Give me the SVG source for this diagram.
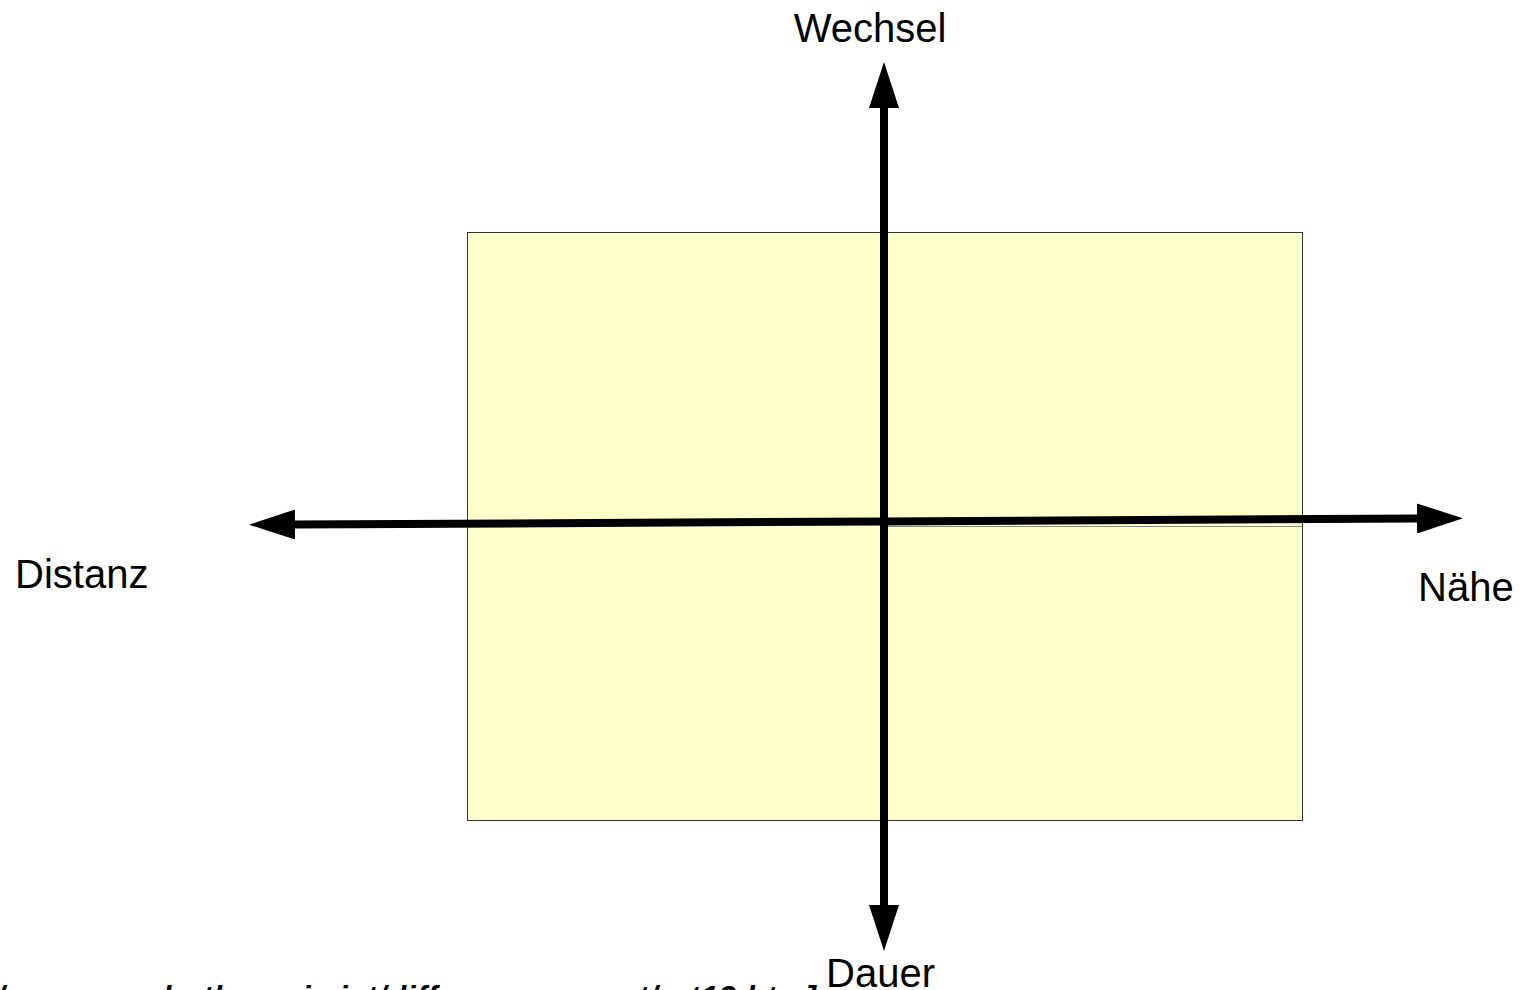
<svg xmlns="http://www.w3.org/2000/svg" width="1524" height="990" viewBox="0 0 1524 990">
<style>
.lbl{font-family:"Liberation Sans",Arial,sans-serif;font-size:40px;fill:#000}
.url{font-family:"Liberation Sans",Arial,sans-serif;font-size:31px;font-weight:bold;font-style:italic;fill:#000}
.axis{stroke:#000;stroke-width:8;fill:none}
</style>
<defs>
<marker id="ah" markerUnits="userSpaceOnUse" markerWidth="46" markerHeight="30" refX="0" refY="15" orient="auto" viewBox="0 0 46 30">
<path d="M0,0 L46,15 L0,30 Z" fill="#000"/>
</marker>
</defs>
<rect width="1524" height="990" fill="#fff"/>
<g id="field">
<rect x="467.5" y="232.5" width="835" height="588" fill="#ffffcc" stroke="#333" stroke-width="1"/>
<line x1="888" y1="526.5" x2="1302" y2="526.5" stroke="#888" stroke-width="1"/>
</g>
<g id="connectors">
<line class="axis" x1="884" y1="905" x2="884" y2="108" marker-end="url(#ah)"/>
<line class="axis" x1="884" y1="500" x2="884" y2="905" marker-end="url(#ah)"/>
<line class="axis" x1="884" y1="521.5" x2="295" y2="524.5" marker-end="url(#ah)"/>
<line class="axis" x1="884" y1="521.5" x2="1417" y2="518.5" marker-end="url(#ah)"/>
</g>
<g id="label-wechsel"><text class="lbl" x="870" y="42" text-anchor="middle">Wechsel</text></g>
<g id="label-distanz"><text class="lbl" x="15" y="588">Distanz</text></g>
<g id="label-naehe"><text class="lbl" x="1418" y="601">Nähe</text></g>
<g id="label-dauer"><text class="lbl" x="826" y="987">Dauer</text></g>
<g id="source"><text class="url" x="-4" y="1008" textLength="820" lengthAdjust="spacing">/www.psychotherapie.ist/diff-management/art13.htm]</text></g>
</svg>
